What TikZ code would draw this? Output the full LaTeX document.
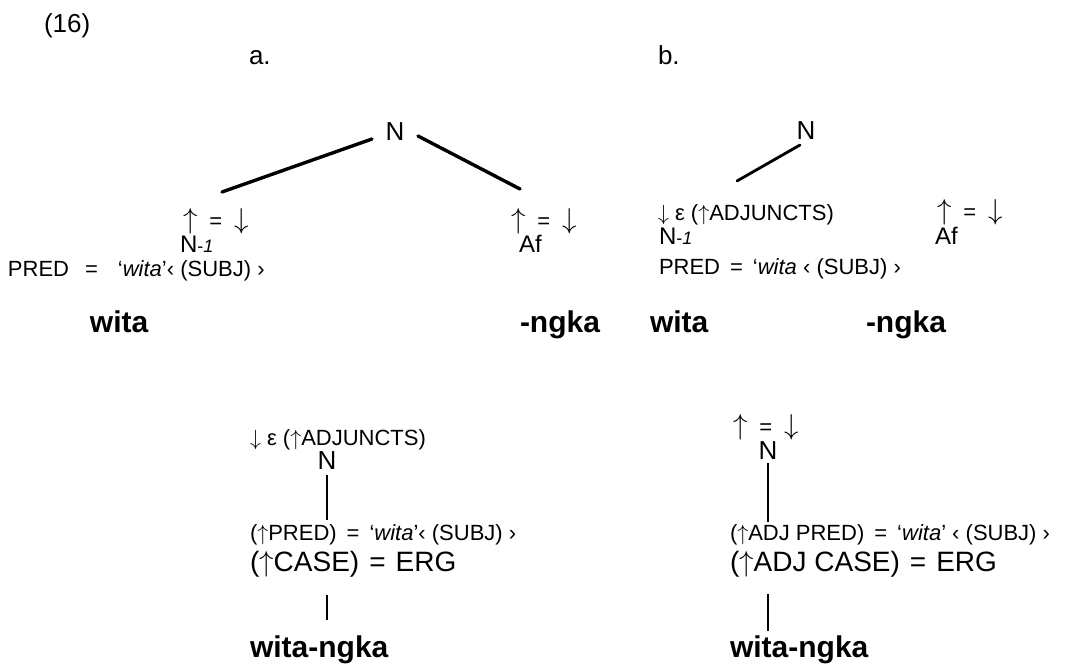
\documentclass[tikz,border=0pt]{standalone}
\usepackage{fontspec}
\setmainfont{Liberation Sans}
\usetikzlibrary{calc}
\newcommand{\upa}{$\uparrow$}
\newcommand{\dna}{$\downarrow$}
\newcommand{\eqsp}{\hspace{5pt}=\hspace{5pt}}
\newcommand{\ueqd}{{\fontsize{14}{14}\selectfont\upa}\hspace{6pt}=\hspace{6pt}{\fontsize{14}{14}\selectfont\dna}}
\newcommand{\subjarg}{‹ (SUBJ) ›}

\begin{document}
\begin{tikzpicture}[x=0.5pt, y=-0.5pt,
  every node/.style={inner sep=0pt, outer sep=0pt},
  num/.style={font=\fontsize{13}{15}\selectfont},
  feat/.style={font=\fontsize{11}{13}\selectfont},
  cat/.style={font=\fontsize{12}{14}\selectfont},
  top/.style={font=\fontsize{13}{15}\selectfont},
  big/.style={font=\fontsize{14}{16}\selectfont},
  word/.style={font=\fontsize{15}{18}\selectfont\bfseries},
  branch/.style={line width=1.7pt, line cap=round},
  stem/.style={line width=1.3pt}
]
\useasboundingbox (0,0) rectangle (1078,667);

% labels
\node[num, anchor=base west] (ex) at (44,33) {(16)};
\node[top, anchor=base west] (parta) at (249,65) {a.};
\node[top, anchor=base west] (partb) at (658,65) {b.};

% (a) upper tree
\node[top, anchor=base] (aN) at (395,141) {N};
\node[feat, anchor=base west] (aUpL) at (183,229) {\ueqd};
\node[cat, anchor=base west] (aNone) at (180,253) {N{\small-\textit{1}}};
\node[feat, anchor=base west] (aPred) at (8,277) {PRED\hspace{8pt}=\hspace{10pt}`\textit{wita}'\subjarg};
\node[feat, anchor=base west] (aUpR) at (511,229) {\ueqd};
\node[cat, anchor=base west] (aAf) at (519,253) {Af};
\node[word, anchor=base west] (aStem) at (90,333) {wita};
\node[word, anchor=base west] (aSuf) at (520,333) {-ngka};
\draw[branch] ([shift={(-23,-2)}]aN.base) -- ([shift={(39,-37)}]aUpL.base west);
\draw[branch] ([shift={(23,-5)}]aN.base) -- ([shift={(9,-40)}]aUpR.base west);

% (b) upper tree
\node[top, anchor=base] (bN) at (806,140) {N};
\node[feat, anchor=base west] (bIn) at (658,221) {\dna\ ε (\upa ADJUNCTS)};
\node[cat, anchor=base west] (bNone) at (659,245) {N{\small-\textit{1}}};
\node[feat, anchor=base west] (bPred) at (659,275) {PRED\eqsp`\textit{wita} \subjarg};
\node[feat, anchor=base west] (bUpR) at (937,220) {\ueqd};
\node[cat, anchor=base west] (bAf) at (935,245) {Af};
\node[word, anchor=base west] (bStem) at (650,333) {wita};
\node[word, anchor=base west] (bSuf) at (866,333) {-ngka};
\draw[branch, line width=1.4pt] ([shift={(-6,5)}]bN.base) -- ([shift={(79,-40)}]bIn.base west);

% (a) lower tree
\node[feat, anchor=base west] (cIn) at (250,446) {\dna\ ε (\upa ADJUNCTS)};
\node[top, anchor=base] (cN) at (327,470) {N};
\node[feat, anchor=base west] (cPred) at (250,541) {(\upa PRED)\eqsp`\textit{wita}'\subjarg};
\node[big, anchor=base west] (cCase) at (250,572) {(\upa CASE)\eqsp ERG};
\node[word, anchor=base west] (cWord) at (250,658) {wita-ngka};
\draw[stem] ([shift={(0,5)}]cN.base) -- ($(cN.base |- cPred.base)+(0,-21)$);
\draw[stem] ($(cN.base |- cCase.base)+(0,23)$) -- ($(cN.base |- cWord.base)+(0,-38)$);

% (b) lower tree
\node[feat, anchor=base west] (dUp) at (733,435) {\ueqd};
\node[top, anchor=base] (dN) at (768,460) {N};
\node[feat, anchor=base west] (dPred) at (730,541) {(\upa ADJ PRED)\eqsp`\textit{wita}' \subjarg};
\node[big, anchor=base west] (dCase) at (730,572) {(\upa ADJ CASE)\eqsp ERG};
\node[word, anchor=base west] (dWord) at (730,658) {wita-ngka};
\draw[stem] ([shift={(0,3)}]dN.base) -- ($(dN.base |- dPred.base)+(0,-19)$);
\draw[stem] ($(dN.base |- dCase.base)+(0,22)$) -- ($(dN.base |- dWord.base)+(0,-27)$);
\end{tikzpicture}
\end{document}
